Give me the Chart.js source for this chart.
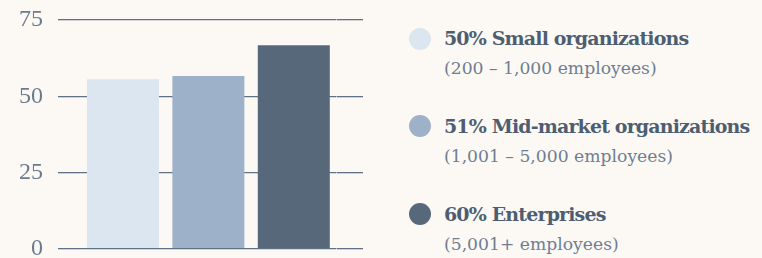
<!DOCTYPE html>
<html>
<head>
<meta charset="utf-8">
<script src="https://cdn.jsdelivr.net/npm/chart.js@4.4.1/dist/chart.umd.min.js"></script>
<style>
  html, body { margin: 0; padding: 0; background: #fcf9f4; width: 762px; height: 258px; overflow: hidden; }
  #wrap { position: absolute; left: 0; top: -10px; width: 363px; height: 300px; }
  #legend { position: absolute; left: 409px; top: 0; width: 353px; }
  .item { position: relative; height: 87.7px; padding-top: 23.3px; box-sizing: border-box; }
  .dot { position: absolute; left: 0; top: 27.5px; width: 22px; height: 22px; border-radius: 50%; }
  .title { margin-left: 35px; font-family: "DejaVu Serif", serif; font-weight: bold; font-size: 19px; line-height: 30px; letter-spacing: -0.85px; color: #4e5e72; white-space: nowrap; }
  .sub { margin-left: 35px; font-family: "DejaVu Serif", serif; font-size: 17.2px; line-height: 30px; letter-spacing: 0; color: #6e7e92; white-space: nowrap; }
</style>
</head>
<body>
<div id="wrap"><canvas id="c"></canvas></div>
<div id="legend"></div>
<script>
const categories = ['Small organizations', 'Mid-market organizations', 'Enterprises'];
const values = [55.6, 56.6, 66.7];
const legendPercents = ['50%', '51%', '60%'];
const legendSubtitles = ['(200 – 1,000 employees)', '(1,001 – 5,000 employees)', '(5,001+ employees)'];
const barColors = ['#dce6f0', '#9db2c8', '#566879'];
const yTicks = [0, 25, 50, 75];

const gridColor = '#5f7087';

const legend = document.getElementById('legend');
categories.forEach((cat, i) => {
  const item = document.createElement('div');
  item.className = 'item';
  const dot = document.createElement('div');
  dot.className = 'dot';
  dot.style.background = barColors[i];
  const t = document.createElement('div');
  t.className = 'title';
  t.textContent = legendPercents[i] + ' ' + cat;
  const s = document.createElement('div');
  s.className = 'sub';
  s.textContent = legendSubtitles[i];
  item.appendChild(dot); item.appendChild(t); item.appendChild(s);
  legend.appendChild(item);
});

new Chart(document.getElementById('c'), {
  type: 'bar',
  data: {
    labels: categories,
    datasets: [{
      data: values,
      backgroundColor: barColors,
      borderWidth: 0,
      barPercentage: 0.843,
      categoryPercentage: 1
    }]
  },
  options: {
    responsive: true,
    maintainAspectRatio: false,
    animation: false,
    events: [],
    layout: { padding: { top: 30, bottom: 41.3, left: 0, right: 0 } },
    plugins: { legend: { display: false }, tooltip: { enabled: false } },
    scales: {
      x: { display: false },
      y: {
        position: 'left',
        min: 0, max: 75,
        afterBuildTicks: (s) => { s.ticks = yTicks.map(v => ({ value: v })); },
        border: { display: false },
        grid: { color: gridColor, lineWidth: 1.3, drawTicks: true, tickLength: 22.25 },
        ticks: {
          padding: 15,
          color: '#6b7b8f',
          font: { family: 'Liberation Serif', size: 24 }
        },
        afterFit: (s) => { s.width = 80.25; }
      },
      y2: {
        position: 'right',
        min: 0, max: 75,
        afterBuildTicks: (s) => { s.ticks = yTicks.map(v => ({ value: v })); },
        border: { display: false },
        grid: { color: gridColor, lineWidth: 1.3, drawOnChartArea: false, drawTicks: true, tickLength: 26.5 },
        ticks: { display: false },
        afterFit: (s) => { s.width = 26.5; }
      }
    }
  }
});
</script>
</body>
</html>
